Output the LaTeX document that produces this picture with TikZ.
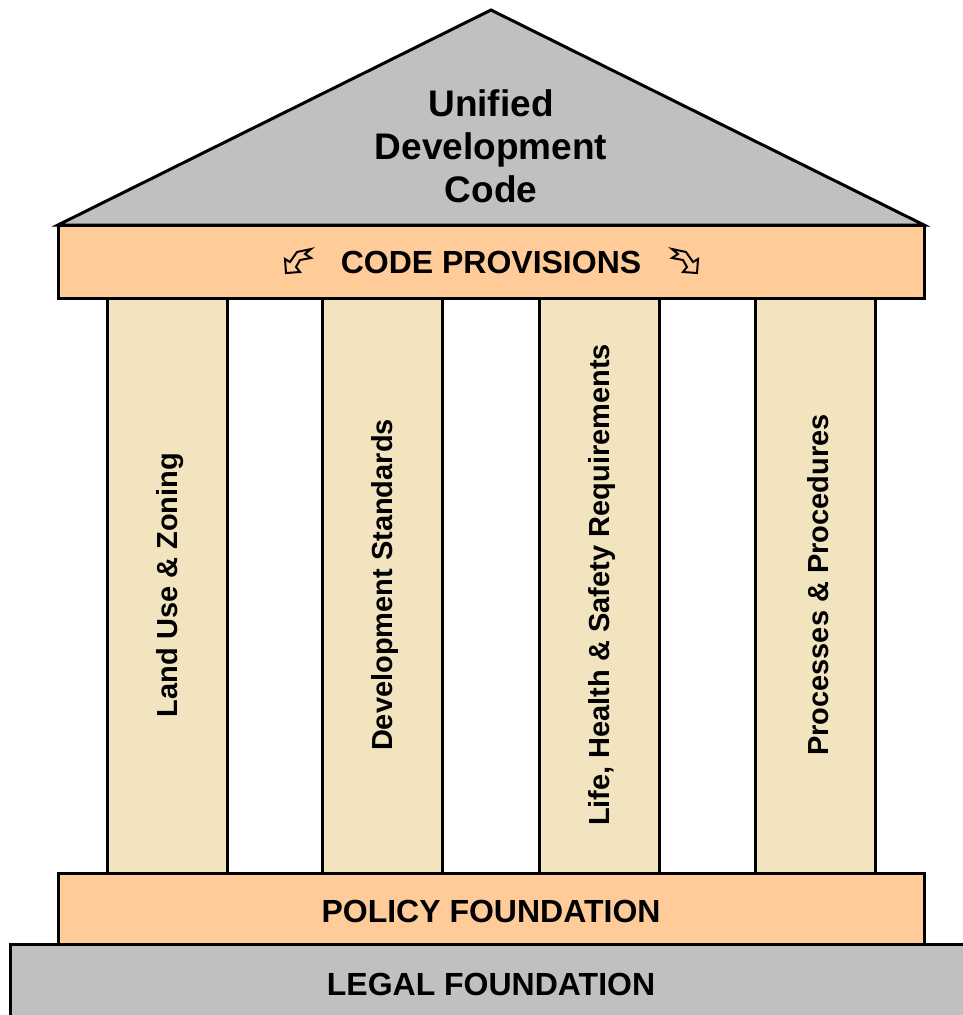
\documentclass[tikz,border=0pt]{standalone}
\usepackage{fontspec}
\setmainfont{Liberation Sans}
\definecolor{roofgray}{RGB}{192, 192, 192}
\definecolor{peach}{RGB}{255, 204, 153}
\definecolor{sandstone}{RGB}{243, 228, 192}
\tikzset{
  slab/.style={draw=black, line width=3pt, line join=miter},
  bigtext/.style={font=\bfseries\fontsize{32}{38}\selectfont, anchor=center, inner sep=0pt},
  colltext/.style={font=\bfseries\fontsize{29}{34}\selectfont, rotate=90, anchor=center, inner sep=0pt},
  glyph/.style={draw=black, fill=peach, line width=2pt, line join=miter}
}
\begin{document}
\begin{tikzpicture}[x=1pt, y=-1pt]
  \useasboundingbox (0,0) rectangle (963,1015);
  % roof
  \filldraw[slab, fill=roofgray] (58,225) -- (491,10) -- (924,225) -- cycle;
  \node[bigtext, align=center, font=\bfseries\fontsize{37}{43}\selectfont] (udc) at (491,146) {Unified\\Development\\Code};
  % beam
  \filldraw[slab, fill=peach] (58,225) rectangle (924,298);
  \node[bigtext] (provisions) at (491,262) {CODE PROVISIONS};
  % little arrows beside the beam text
  \filldraw[glyph] (286,273) -- (285,259) -- (290,262) -- (297,252) -- (311,249)
                   -- (305,254) -- (311,258) -- (300,260) -- (296,267) -- (300,272) -- cycle;
  \filldraw[glyph] (697,273) -- (698,259) -- (693,262) -- (686,252) -- (672,249)
                   -- (678,254) -- (672,258) -- (683,260) -- (687,267) -- (683,272) -- cycle;
  % columns
  \foreach \xl/\name/\txt in {107/landuse/{Land Use \& Zoning},
                              322/standards/{Development Standards},
                              539/safety/{Life, Health \& Safety Requirements},
                              755/procedures/{Processes \& Procedures}}{
    \filldraw[slab, fill=sandstone] (\xl,298) rectangle ({\xl+120},873);
    \node[colltext] (\name) at ({\xl+63},585) {\txt};
  }
  % foundations
  \filldraw[slab, fill=peach]    (58,873) rectangle (924,944);
  \node[bigtext] (policy) at (491,911) {POLICY FOUNDATION};
  \filldraw[slab, fill=roofgray] (10,944) rectangle (990,1040);
  \node[bigtext] (legal) at (491,984) {LEGAL FOUNDATION};
\end{tikzpicture}
\end{document}
